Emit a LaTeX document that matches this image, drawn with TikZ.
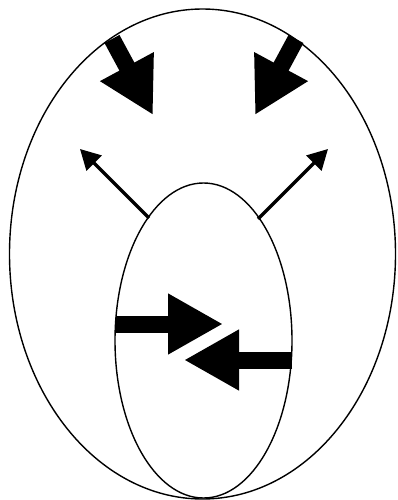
\documentclass[tikz,border=0pt]{standalone}
\usetikzlibrary{arrows.meta}
\begin{document}
\begin{tikzpicture}[x=1pt,y=-1pt,
  outline/.style={draw=black,line width=1.4pt},
  bigarrow/.style={line width=17pt,line cap=butt,-{Triangle[length=55pt,width=57pt]}},
  thinarrow/.style={line width=3.2pt,line cap=butt,-{Triangle[length=20pt,width=21pt]}}]
\useasboundingbox (0,0) rectangle (397,500);
\fill[white] (0,0) rectangle (397,500);
\draw[outline] (202.5,254) ellipse [x radius=193, y radius=245];
\draw[outline] (203.5,340.5) ellipse [x radius=88.5, y radius=157.5];
% top thick arrows
\coordinate (tl) at (112,39);
\coordinate (tlh) at (153,115);
\coordinate (tr) at (296,39);
\coordinate (trh) at (255,115);
\draw[bigarrow] (tl) -- (tlh);
\draw[bigarrow] (tr) -- (trh);
% thin arrows
\coordinate (al) at (149,218);
\coordinate (alh) at (80,149);
\coordinate (ar) at (258,219);
\coordinate (arh) at (328,149);
\draw[thinarrow] (al) -- (alh);
\draw[thinarrow] (ar) -- (arh);
% horizontal arrows
\coordinate (hl) at (116,324);
\coordinate (hlh) at (223,324);
\coordinate (hr) at (292,360);
\coordinate (hrh) at (184,360);
\draw[bigarrow] (hl) -- (hlh);
\draw[bigarrow] (hr) -- (hrh);
\end{tikzpicture}
\end{document}
